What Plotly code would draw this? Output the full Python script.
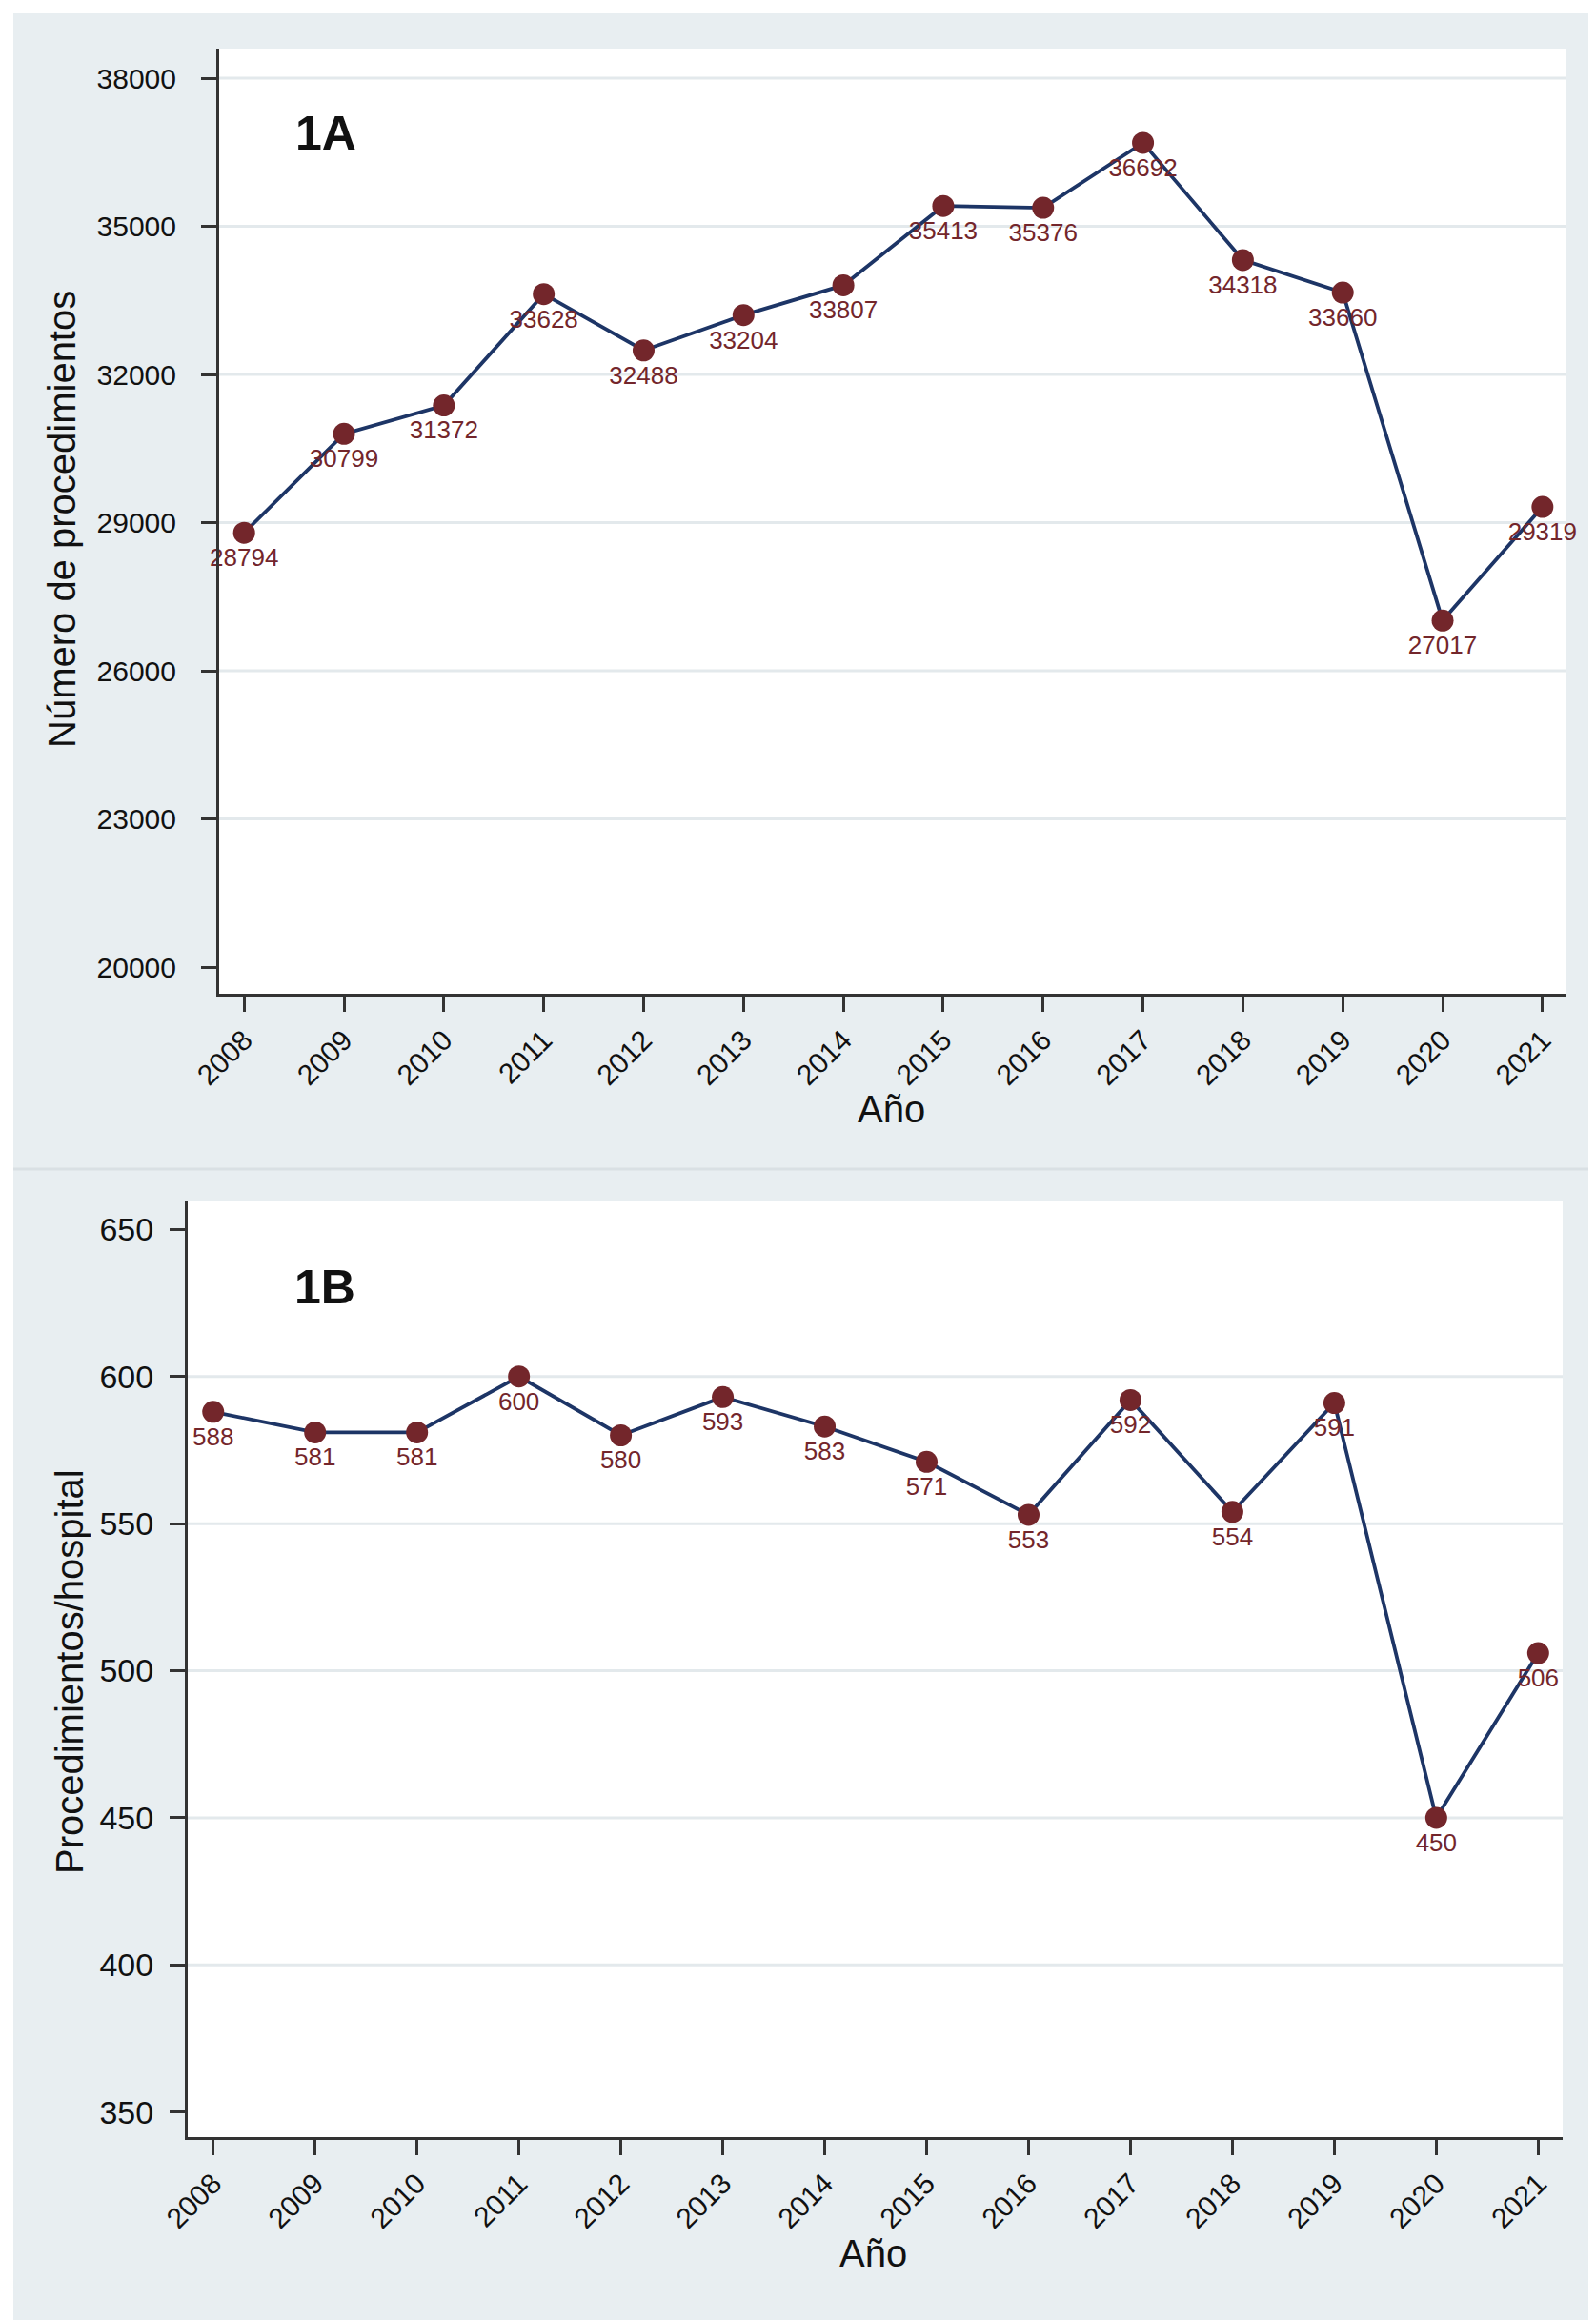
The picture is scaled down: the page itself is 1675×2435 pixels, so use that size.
import plotly.graph_objects as go
from plotly.subplots import make_subplots

years = [2008, 2009, 2010, 2011, 2012, 2013, 2014, 2015, 2016, 2017, 2018, 2019, 2020, 2021]
procedimientos = [28794, 30799, 31372, 33628, 32488, 33204, 33807, 35413, 35376, 36692, 34318, 33660, 27017, 29319]
proc_hospital = [588, 581, 581, 600, 580, 593, 583, 571, 553, 592, 554, 591, 450, 506]
ticks_a = [20000, 23000, 26000, 29000, 32000, 35000, 38000]
ticks_b = [350, 400, 450, 500, 550, 600, 650]
year_labels = [str(y) for y in years]

W, H = 1675, 2435
BG = "#e8eef1"
LINE = "#1d3566"
MARK = "#73262b"
FONT = "Liberation Sans, Arial, Helvetica, sans-serif"

fig = make_subplots(rows=2, cols=1)

def px_x(p):
    return p / W

def px_y(p):
    return 1 - p / H

# domains (pixels)
A_x = (222, 1636); A_y = (43, 1035)
B_x = (189, 1632); B_y = (1253, 2235)

fig.update_layout(
    xaxis=dict(domain=[px_x(A_x[0]), px_x(A_x[1])]),
    yaxis=dict(domain=[px_y(A_y[1]), px_y(A_y[0])]),
    xaxis2=dict(domain=[px_x(B_x[0]), px_x(B_x[1])]),
    yaxis2=dict(domain=[px_y(B_y[1]), px_y(B_y[0])]),
)

for row, vals in ((1, procedimientos), (2, proc_hospital)):
    fig.add_trace(go.Scatter(
        x=years, y=vals, mode="lines+markers+text",
        text=[str(v) for v in vals], textposition="bottom center",
        textfont=dict(family=FONT, size=26, color=MARK),
        line=dict(color=LINE, width=3.8),
        marker=dict(color=MARK, size=23, line=dict(width=0)),
        showlegend=False, cliponaxis=False,
    ), row=row, col=1)

common_x = dict(
    range=[2007.75, 2021.24], tickmode="array", tickvals=years, ticktext=year_labels,
    tickangle=-45, ticks="outside", ticklen=16, tickwidth=3, tickcolor="#333333",
    showline=True, linecolor="#333333", linewidth=3, showgrid=False, zeroline=False,
    tickfont=dict(family=FONT, size=30, color="#111111"), automargin=False,
)
common_y = dict(
    tickmode="array", ticks="outside", ticklen=16, tickwidth=3, tickcolor="#333333",
    showline=True, linecolor="#333333", linewidth=3, showgrid=False, zeroline=False,
    tickfont=dict(family=FONT, size=30, color="#111111"),
    automargin=False,
)
fig.update_xaxes(**common_x)
fig.update_yaxes(**common_y)
fig.update_yaxes(range=[19460, 38600], tickvals=ticks_a, ticktext=[str(t) for t in ticks_a],
                 ticklabelstandoff=20, row=1, col=1)
fig.update_yaxes(range=[341.5, 659.5], tickvals=ticks_b, ticktext=[str(t) for t in ticks_b],
                 ticklabelstandoff=10,
                 tickfont=dict(family=FONT, size=34, color="#111111"), row=2, col=1)

shapes = []
for t in ticks_a[1:]:
    shapes.append(dict(type="line", xref="x domain", yref="y", x0=0, x1=1, y0=t, y1=t,
                       line=dict(color="#e3e9ec", width=3), layer="below"))
for t in ticks_b[1:-1]:
    shapes.append(dict(type="line", xref="x2 domain", yref="y2", x0=0, x1=1, y0=t, y1=t,
                       line=dict(color="#e3e9ec", width=3), layer="below"))
# white outer border and panel separator
shapes.append(dict(type="rect", xref="paper", yref="paper", x0=0, x1=1, y0=0, y1=1,
                   line=dict(color="white", width=12), fillcolor="rgba(0,0,0,0)", layer="above"))
shapes.append(dict(type="line", xref="paper", yref="paper", x0=px_x(6), x1=px_x(W - 6),
                   y0=px_y(1219), y1=px_y(1219), line=dict(color="#d9e0e4", width=3), layer="above"))

annotations = [
    dict(text="<b>1A</b>", xref="x domain", yref="y domain", x=0.055, y=0.91,
         xanchor="left", yanchor="middle", showarrow=False,
         font=dict(family=FONT, size=50, color="#111111")),
    dict(text="<b>1B</b>", xref="x2 domain", yref="y2 domain", x=0.076, y=0.908,
         xanchor="left", yanchor="middle", showarrow=False,
         font=dict(family=FONT, size=50, color="#111111")),
    dict(text="Número de procedimientos", xref="paper", yref="paper", x=px_x(57), y=px_y(537),
         textangle=-90, showarrow=False, xanchor="center", yanchor="middle",
         font=dict(family=FONT, size=40, color="#111111")),
    dict(text="Año", xref="paper", yref="paper", x=px_x(927), y=px_y(1156),
         showarrow=False, xanchor="center", yanchor="middle",
         font=dict(family=FONT, size=40, color="#111111")),
    dict(text="Procedimientos/hospital", xref="paper", yref="paper", x=px_x(65), y=px_y(1747),
         textangle=-90, showarrow=False, xanchor="center", yanchor="middle",
         font=dict(family=FONT, size=40, color="#111111")),
    dict(text="Año", xref="paper", yref="paper", x=px_x(909), y=px_y(2357),
         showarrow=False, xanchor="center", yanchor="middle",
         font=dict(family=FONT, size=40, color="#111111")),
]

fig.update_layout(
    width=W, height=H, margin=dict(l=0, r=0, t=0, b=0, pad=0),
    paper_bgcolor=BG, plot_bgcolor="white",
    shapes=shapes, annotations=annotations, showlegend=False,
)

fig.write_html("out.html")
